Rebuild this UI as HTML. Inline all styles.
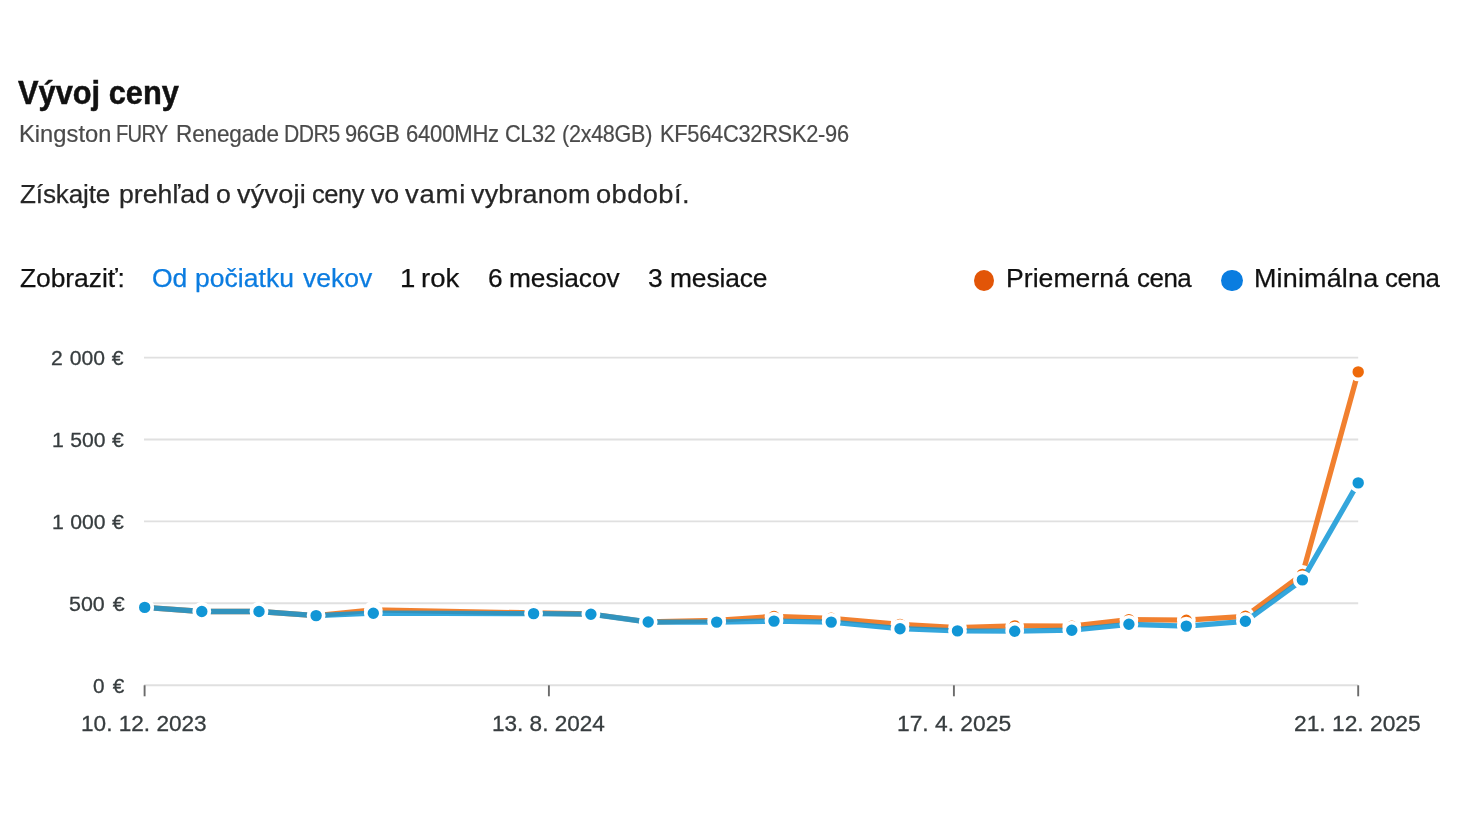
<!DOCTYPE html>
<html lang="sk"><head><meta charset="utf-8"><title>Vývoj ceny</title>
<style>
html,body{margin:0;padding:0;background:#fff}
body{width:1465px;height:824px;position:relative;overflow:hidden;font-family:'Liberation Sans', Arial, Helvetica, sans-serif;font-weight:400}
h1,p,nav,ul,li,figure,figcaption,header,section{margin:0;padding:0;font:inherit;list-style:none;display:block}
.t{position:absolute;white-space:nowrap;line-height:1;transform-origin:0 50%;display:block;font-weight:400}
h1 .t{font-weight:700}
.chart{position:absolute;left:0;top:0}
.dot{position:absolute;border-radius:50%;display:block}
</style></head><body>
<header>
<h1>
<span class="t" style="left:18.40px;top:76.00px;font-size:33.3px;font-weight:700;-webkit-text-stroke:0.5px #111111;color:#111111;letter-spacing:0.000px;transform:scaleX(0.9247)">Vývoj ceny</span>
</h1>
<p class="product">
<span class="t" style="left:18.58px;top:123.00px;font-size:23.4px;-webkit-text-stroke:0.2px #4a4a4a;color:#4a4a4a;letter-spacing:0.031px;transform:scaleX(1.0125)">Kingston</span>
<span class="t" style="left:116.38px;top:123.00px;font-size:23.4px;-webkit-text-stroke:0.2px #4a4a4a;color:#4a4a4a;letter-spacing:-0.857px;transform:scaleX(0.8621)">FURY</span>
<span class="t" style="left:175.57px;top:123.00px;font-size:23.4px;-webkit-text-stroke:0.2px #4a4a4a;color:#4a4a4a;letter-spacing:-0.142px;transform:scaleX(0.9635)">Renegade</span>
<span class="t" style="left:283.59px;top:123.00px;font-size:23.4px;-webkit-text-stroke:0.2px #4a4a4a;color:#4a4a4a;letter-spacing:-0.498px;transform:scaleX(0.9033)">DDR5</span>
<span class="t" style="left:345.27px;top:123.00px;font-size:23.4px;-webkit-text-stroke:0.2px #4a4a4a;color:#4a4a4a;letter-spacing:-0.343px;transform:scaleX(0.9333)">96GB</span>
<span class="t" style="left:405.86px;top:123.00px;font-size:23.4px;-webkit-text-stroke:0.2px #4a4a4a;color:#4a4a4a;letter-spacing:-0.229px;transform:scaleX(0.9433)">6400MHz</span>
<span class="t" style="left:504.57px;top:123.00px;font-size:23.4px;-webkit-text-stroke:0.2px #4a4a4a;color:#4a4a4a;letter-spacing:-0.344px;transform:scaleX(0.9283)">CL32</span>
<span class="t" style="left:562.38px;top:123.00px;font-size:23.4px;-webkit-text-stroke:0.2px #4a4a4a;color:#4a4a4a;letter-spacing:-0.294px;transform:scaleX(0.9219)">(2x48GB)</span>
<span class="t" style="left:659.74px;top:123.00px;font-size:23.4px;-webkit-text-stroke:0.2px #4a4a4a;color:#4a4a4a;letter-spacing:-0.272px;transform:scaleX(0.9315)">KF564C32RSK2-96</span>
</p>
<p class="lead">
<span class="t" style="left:20.00px;top:181.00px;font-size:26.5px;-webkit-text-stroke:0.25px #262626;color:#262626;letter-spacing:-0.157px;transform:scaleX(0.9846)">Získajte</span>
<span class="t" style="left:118.90px;top:181.00px;font-size:26.5px;-webkit-text-stroke:0.25px #262626;color:#262626;letter-spacing:0.030px;transform:scaleX(1.0045)">prehľad</span>
<span class="t" style="left:215.99px;top:181.00px;font-size:26.5px;-webkit-text-stroke:0.25px #262626;color:#262626;letter-spacing:0.000px;transform:scaleX(1.0086)">o</span>
<span class="t" style="left:237.30px;top:181.00px;font-size:26.5px;-webkit-text-stroke:0.25px #262626;color:#262626;letter-spacing:0.212px;transform:scaleX(1.0212)">vývoji</span>
<span class="t" style="left:312.14px;top:181.00px;font-size:26.5px;-webkit-text-stroke:0.25px #262626;color:#262626;letter-spacing:-0.480px;transform:scaleX(0.9611)">ceny</span>
<span class="t" style="left:371.18px;top:181.00px;font-size:26.5px;-webkit-text-stroke:0.25px #262626;color:#262626;letter-spacing:0.000px;transform:scaleX(1.0086)">vo</span>
<span class="t" style="left:404.60px;top:181.00px;font-size:26.5px;-webkit-text-stroke:0.25px #262626;color:#262626;letter-spacing:0.727px;transform:scaleX(1.0368)">vami</span>
<span class="t" style="left:470.80px;top:181.00px;font-size:26.5px;-webkit-text-stroke:0.25px #262626;color:#262626;letter-spacing:0.178px;transform:scaleX(1.0155)">vybranom</span>
<span class="t" style="left:596.37px;top:181.00px;font-size:26.5px;-webkit-text-stroke:0.25px #262626;color:#262626;letter-spacing:0.405px;transform:scaleX(1.0295)">období.</span>
</p>
</header>
<section class="controls">
<nav class="range">
<span class="t" style="left:20.20px;top:265.00px;font-size:26.5px;-webkit-text-stroke:0.25px #111111;color:#111111;letter-spacing:-0.068px;transform:scaleX(0.9981)">Zobraziť:</span>
<a class="active">
<span class="t" style="left:151.95px;top:265.00px;font-size:26.5px;-webkit-text-stroke:0.25px #0b7ce0;color:#0b7ce0;letter-spacing:0.000px;transform:scaleX(1.0000)">Od</span>
<span class="t" style="left:194.70px;top:265.00px;font-size:26.5px;-webkit-text-stroke:0.25px #0b7ce0;color:#0b7ce0;letter-spacing:0.058px;transform:scaleX(0.9990)">počiatku</span>
<span class="t" style="left:302.70px;top:265.00px;font-size:26.5px;-webkit-text-stroke:0.25px #0b7ce0;color:#0b7ce0;letter-spacing:0.011px;transform:scaleX(1.0014)">vekov</span>
</a>
<a>
<span class="t" style="left:400.39px;top:265.00px;font-size:26.5px;-webkit-text-stroke:0.25px #111111;color:#111111;letter-spacing:0.000px;transform:scaleX(1.0389)">1</span>
<span class="t" style="left:421.16px;top:265.00px;font-size:26.5px;-webkit-text-stroke:0.25px #111111;color:#111111;letter-spacing:0.000px;transform:scaleX(1.0389)">rok</span>
</a>
<a>
<span class="t" style="left:488.11px;top:265.00px;font-size:26.5px;-webkit-text-stroke:0.25px #111111;color:#111111;letter-spacing:0.000px;transform:scaleX(0.9919)">6</span>
<span class="t" style="left:509.11px;top:265.00px;font-size:26.5px;-webkit-text-stroke:0.25px #111111;color:#111111;letter-spacing:-0.058px;transform:scaleX(0.9919)">mesiacov</span>
</a>
<a>
<span class="t" style="left:647.94px;top:265.00px;font-size:26.5px;-webkit-text-stroke:0.25px #111111;color:#111111;letter-spacing:0.000px;transform:scaleX(0.9948)">3</span>
<span class="t" style="left:669.71px;top:265.00px;font-size:26.5px;-webkit-text-stroke:0.25px #111111;color:#111111;letter-spacing:-0.113px;transform:scaleX(0.9948)">mesiace</span>
</a>
</nav>
<ul class="legend">
<li><i class="dot" style="left:973.5px;top:269.6px;width:20.7px;height:21.7px;background:#e25507"></i>
<span class="t" style="left:1005.79px;top:265.00px;font-size:26.5px;-webkit-text-stroke:0.25px #111111;color:#111111;letter-spacing:0.028px;transform:scaleX(1.0041)">Priemerná</span>
<span class="t" style="left:1136.52px;top:265.00px;font-size:26.5px;-webkit-text-stroke:0.25px #111111;color:#111111;letter-spacing:-0.495px;transform:scaleX(0.9782)">cena</span>
</li>
<li><i class="dot" style="left:1221.3px;top:269.6px;width:21.7px;height:21.6px;background:#0a7de0"></i>
<span class="t" style="left:1253.57px;top:265.00px;font-size:26.5px;-webkit-text-stroke:0.25px #111111;color:#111111;letter-spacing:0.166px;transform:scaleX(1.0167)">Minimálna</span>
<span class="t" style="left:1384.83px;top:265.00px;font-size:26.5px;-webkit-text-stroke:0.25px #111111;color:#111111;letter-spacing:-0.369px;transform:scaleX(0.9750)">cena</span>
</li>
</ul>
</section>
<figure class="price-chart">
<svg class="chart" width="1465" height="824" viewBox="0 0 1465 824">
<line x1="144" y1="357.6" x2="1358.2" y2="357.6" stroke="#e0e0e0" stroke-width="1.9"/>
<line x1="144" y1="439.5" x2="1358.2" y2="439.5" stroke="#e0e0e0" stroke-width="1.9"/>
<line x1="144" y1="521.4" x2="1358.2" y2="521.4" stroke="#e0e0e0" stroke-width="1.9"/>
<line x1="144" y1="603.3" x2="1358.2" y2="603.3" stroke="#e0e0e0" stroke-width="1.9"/>
<line x1="144" y1="685.3" x2="1358.2" y2="685.3" stroke="#e0e0e0" stroke-width="1.9"/>
<line x1="144.6" y1="685.3" x2="144.6" y2="696.3" stroke="#6b6b6b" stroke-width="1.9"/>
<line x1="548.9" y1="685.3" x2="548.9" y2="696.3" stroke="#6b6b6b" stroke-width="1.9"/>
<line x1="953.9" y1="685.3" x2="953.9" y2="696.3" stroke="#6b6b6b" stroke-width="1.9"/>
<line x1="1358.2" y1="685.3" x2="1358.2" y2="696.3" stroke="#6b6b6b" stroke-width="1.9"/>
<polyline points="144.7,607.4 201.8,611.5 259.0,611.5 316.1,615.6 373.3,609.9 533.6,613.0 590.9,614.0 648.2,622.0 716.7,620.3 774.0,616.4 831.2,618.3 900.0,624.4 957.5,627.7 1014.7,625.9 1071.8,626.2 1128.9,619.6 1186.3,620.2 1245.4,616.3 1302.4,574.4 1358.2,371.9" fill="none" stroke="#ee6a0a" stroke-opacity="0.85" stroke-width="5.3" stroke-linejoin="round" stroke-linecap="butt"/>
<g fill="#ee6a0a" stroke="#fff" stroke-width="3.7"><circle cx="144.7" cy="607.4" r="7.55"/><circle cx="201.8" cy="611.5" r="7.55"/><circle cx="259.0" cy="611.5" r="7.55"/><circle cx="316.1" cy="615.6" r="7.55"/><circle cx="373.3" cy="609.9" r="7.55"/><circle cx="533.6" cy="613.0" r="7.55"/><circle cx="590.9" cy="614.0" r="7.55"/><circle cx="648.2" cy="622.0" r="7.55"/><circle cx="716.7" cy="620.3" r="7.55"/><circle cx="774.0" cy="616.4" r="7.55"/><circle cx="831.2" cy="618.3" r="7.55"/><circle cx="900.0" cy="624.4" r="7.55"/><circle cx="957.5" cy="627.7" r="7.55"/><circle cx="1014.7" cy="625.9" r="7.55"/><circle cx="1071.8" cy="626.2" r="7.55"/><circle cx="1128.9" cy="619.6" r="7.55"/><circle cx="1186.3" cy="620.2" r="7.55"/><circle cx="1245.4" cy="616.3" r="7.55"/><circle cx="1302.4" cy="574.4" r="7.55"/><circle cx="1358.2" cy="371.9" r="7.55"/></g>
<polyline points="144.7,607.4 201.8,611.5 259.0,611.5 316.1,615.6 373.3,613.2 533.6,613.6 590.9,614.2 648.2,622.0 716.7,622.1 774.0,621.1 831.2,622.1 900.0,628.7 957.5,630.9 1014.7,631.2 1071.8,630.2 1128.9,624.3 1186.3,626.1 1245.4,621.3 1302.4,579.9 1358.2,482.9" fill="none" stroke="#1196d6" stroke-opacity="0.85" stroke-width="5.3" stroke-linejoin="round" stroke-linecap="butt"/>
<g fill="#1196d6" stroke="#fff" stroke-width="3.7"><circle cx="144.7" cy="607.4" r="7.55"/><circle cx="201.8" cy="611.5" r="7.55"/><circle cx="259.0" cy="611.5" r="7.55"/><circle cx="316.1" cy="615.6" r="7.55"/><circle cx="373.3" cy="613.2" r="7.55"/><circle cx="533.6" cy="613.6" r="7.55"/><circle cx="590.9" cy="614.2" r="7.55"/><circle cx="648.2" cy="622.0" r="7.55"/><circle cx="716.7" cy="622.1" r="7.55"/><circle cx="774.0" cy="621.1" r="7.55"/><circle cx="831.2" cy="622.1" r="7.55"/><circle cx="900.0" cy="628.7" r="7.55"/><circle cx="957.5" cy="630.9" r="7.55"/><circle cx="1014.7" cy="631.2" r="7.55"/><circle cx="1071.8" cy="630.2" r="7.55"/><circle cx="1128.9" cy="624.3" r="7.55"/><circle cx="1186.3" cy="626.1" r="7.55"/><circle cx="1245.4" cy="621.3" r="7.55"/><circle cx="1302.4" cy="579.9" r="7.55"/><circle cx="1358.2" cy="482.9" r="7.55"/></g>
</svg>
<div class="y-axis">
<span class="t" style="left:51.36px;top:348.00px;font-size:20.3px;word-spacing:1.019px;-webkit-text-stroke:0.3px #373d3f;color:#373d3f;letter-spacing:0.000px;transform:scaleX(1.0406)">2 000 €</span>
<span class="t" style="left:52.46px;top:430.00px;font-size:20.3px;word-spacing:0.587px;-webkit-text-stroke:0.3px #373d3f;color:#373d3f;letter-spacing:0.000px;transform:scaleX(1.0426)">1 500 €</span>
<span class="t" style="left:52.46px;top:512.00px;font-size:20.3px;word-spacing:0.587px;-webkit-text-stroke:0.3px #373d3f;color:#373d3f;letter-spacing:0.000px;transform:scaleX(1.0426)">1 000 €</span>
<span class="t" style="left:69.44px;top:594.00px;font-size:20.3px;word-spacing:1.827px;-webkit-text-stroke:0.3px #373d3f;color:#373d3f;letter-spacing:0.000px;transform:scaleX(1.0569)">500 €</span>
<span class="t" style="left:92.50px;top:676.00px;font-size:20.3px;word-spacing:2.481px;-webkit-text-stroke:0.3px #373d3f;color:#373d3f;letter-spacing:0.000px;transform:scaleX(1.0226)">0 €</span>
</div>
<div class="x-axis">
<span class="t" style="left:81.47px;top:713.00px;font-size:22.0px;-webkit-text-stroke:0.3px #373d3f;color:#373d3f;letter-spacing:0.000px;transform:scaleX(1.0273)">10. 12. 2023</span>
<span class="t" style="left:492.48px;top:713.00px;font-size:22.0px;-webkit-text-stroke:0.3px #373d3f;color:#373d3f;letter-spacing:0.000px;transform:scaleX(1.0248)">13. 8. 2024</span>
<span class="t" style="left:896.96px;top:713.00px;font-size:22.0px;-webkit-text-stroke:0.3px #373d3f;color:#373d3f;letter-spacing:-0.000px;transform:scaleX(1.0361)">17. 4. 2025</span>
<span class="t" style="left:1294.26px;top:713.00px;font-size:22.0px;-webkit-text-stroke:0.3px #373d3f;color:#373d3f;letter-spacing:0.000px;transform:scaleX(1.0355)">21. 12. 2025</span>
</div>
</figure>
</body></html>
